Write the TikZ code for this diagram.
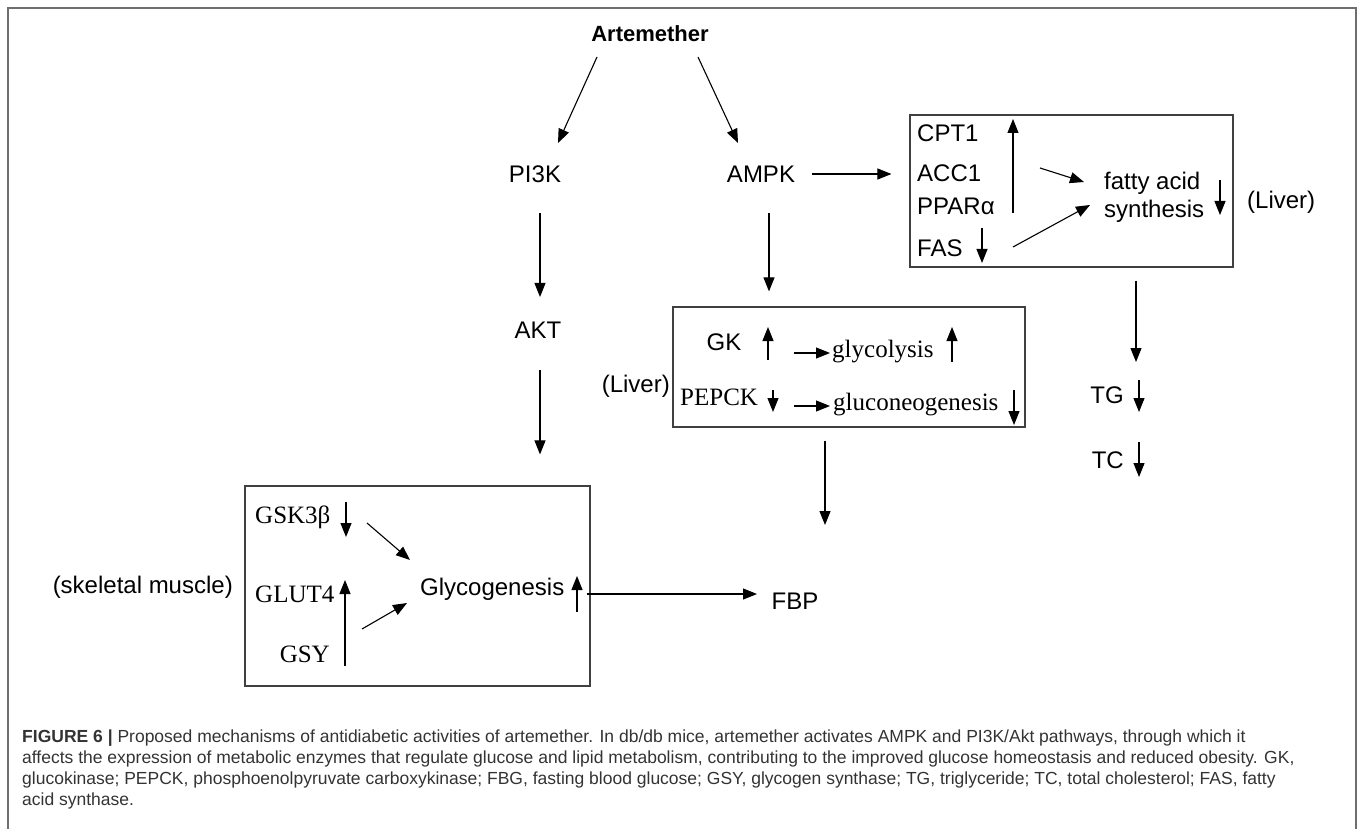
\documentclass[tikz,border=0pt]{standalone}
\usepackage{fontspec}
\setmainfont{Liberation Sans}
\newfontfamily\rmnode{Liberation Serif}
\newfontfamily\capfont{Liberation Sans}
\usetikzlibrary{calc,positioning,arrows.meta}
\definecolor{Frame}{HTML}{6e6e6e}
\definecolor{Caption}{HTML}{333333}
\def\sz#1{\fontsize{#1}{#1}\selectfont}

\begin{document}
\begin{tikzpicture}[
    x=1pt, y=-1pt,
    >={Triangle[length=14pt, width=11pt]},
    conn/.style={->, line width=1.1pt},
    box/.style={draw=black!75, line width=1.2pt, inner sep=0pt},
    sfKey/.style={font=\sz{24}, inner sep=0pt, anchor=base},
    sfKeyW/.style={font=\sz{24}, inner sep=0pt, anchor=base west},
    rmKey/.style={font=\rmnode\sz{25}, inner sep=0pt, anchor=base west},
  ]
  \useasboundingbox (0,0) rectangle (1358,829);
  \draw[Frame, line width=1.5pt] (8,829) -- (8,8) -- (1356,8) -- (1356,829);

  % main nodes
  \node[font=\bfseries\sz{22}, inner sep=0pt, anchor=base] (art) at (650,42) {Artemether};
  \node[sfKey] (pi3k) at (535,183) {PI3K};
  \node[sfKey] (ampk) at (761,183) {AMPK};
  \node[sfKey] (akt) at (538,338) {AKT};
  \node[sfKey] (fbp) at (795,609) {FBP};
  \node[sfKey, anchor=base east] (tg) at (1124,403) {TG};
  \node[sfKey, anchor=base east] (tc) at (1124,468) {TC};

  % boxes
  \node[box, minimum width=323pt, minimum height=152pt] (lipidbox) at (1071.5,191) {};
  \node[box, minimum width=352pt, minimum height=120pt] (liverbox) at (849,367) {};
  \node[box, minimum width=345pt, minimum height=200pt] (musclebox) at (417.5,586) {};

  % lipid box
  \node[sfKeyW] (cpt) at (917,142) {CPT1};
  \node[sfKeyW] (acc) at (917,182) {ACC1};
  \node[sfKeyW] (ppar) at (917,215) {PPARα};
  \node[sfKeyW] (fas) at (917,257) {FAS};
  \node[sfKeyW] (fatty) at (1104,190) {fatty acid};
  \node[sfKeyW] (synth) at (1104,218) {synthesis};
  \node[sfKeyW] (liverR) at (1247,209) {(Liver)};

  % liver box
  \node[sfKey] (gk) at (724,350) {GK};
  \node[rmKey] (glyco) at (832,357) {glycolysis};
  \node[rmKey] (pepck) at (680,405) {PEPCK};
  \node[rmKey] (gng) at (833,410) {gluconeogenesis};
  \node[sfKey, anchor=base east] (liverL) at (670,392) {(Liver)};

  % muscle box
  \node[rmKey] (gsk) at (255,523) {GSK3β};
  \node[rmKey] (glut) at (255,602) {GLUT4};
  \node[rmKey, anchor=base east] (gsy) at (330,662) {GSY};
  \node[sfKeyW] (glycogen) at (420,595) {Glycogenesis};
  \node[sfKey, anchor=base east] (muscle) at (233,593) {(skeletal muscle)};

  % lines
  \draw[conn] ($(art.base)+(-53,15)$) -- ($(pi3k.base)+(23,-40)$);
  \draw[conn] ($(art.base)+(48,15)$) -- ($(ampk.base)+(-23,-40)$);
  \draw[conn] ($(pi3k.base)+(5,30)$) -- ($(akt.base)+(2,-41)$);
  \draw[conn] ($(akt.base)+(2,32)$) -- ($(akt.base |- musclebox.north)+(2,-31)$);
  \draw[conn] ($(ampk.base)+(8,30)$) -- ($(ampk.base |- liverbox.north)+(8,-15)$);
  \draw[conn] ($(ampk.base)+(51,-9)$) -- ($(ampk.base -| lipidbox.west)+(-18,-9)$);
  \draw[conn] ($(lipidbox.south)+(64.5,13)$) -- ($(tg.base east)+(12,-41)$);
  \draw[conn] ($(liverbox.south)+(-24,13)$) -- ($(fbp.base)+(30,-84)$);
  \draw[conn] ($(musclebox.east)+(-4,8)$) -- ($(fbp.base)+(-38,-15)$);
  \draw[conn] ($(acc.base west)+(123,-14)$) -- ($(fatty.base west)+(-20,-8)$);
  \draw[conn] ($(fas.base west)+(96,-10)$) -- ($(fatty.base west)+(-14,15)$);
  \draw[conn] ($(gk.base)+(70,3)$) -- ($(glyco.base west)+(-2,-4)$);
  \draw[conn] ($(pepck.base west)+(114,1)$) -- ($(gng.base west)+(-3,-4)$);
  \draw[conn] ($(gsk.base west)+(112,0)$) -- ($(glycogen.base west)+(-10,-35)$);
  \draw[conn] ($(gsy.base east)+(32,-33)$) -- ($(glycogen.base west)+(-13,8)$);

  % up / down marks
  \draw[conn] ($(ppar.base west)+(96,-2)$) -- ($(cpt.base west)+(96,-23)$);
  \draw[conn] ($(fas.base west)+(65,-29)$) -- ++(0,35);
  \draw[conn] ($(fatty.base west)+(116,-10)$) -- ++(0,35);
  \draw[conn] ($(tg.base east)+(15,-23)$) -- ++(0,32);
  \draw[conn] ($(tc.base east)+(15,-26)$) -- ++(0,35);
  \draw[conn] ($(gk.base)+(44,10)$) -- ++(0,-33);
  \draw[conn] ($(glyco.base west)+(120,5)$) -- ++(0,-35);
  \draw[conn] ($(pepck.base west)+(93,-15)$) -- ++(0,22);
  \draw[conn] ($(gng.base west)+(181,-20)$) -- ++(0,35);
  \draw[conn] ($(gsk.base west)+(91,-21)$) -- ++(0,35);
  \draw[conn] ($(glut.base west)+(90,64)$) -- ++(0,-86);
  \draw[conn] ($(glycogen.base west)+(157,17)$) -- ++(0,-36);

  % caption
  \node[font=\capfont\fontsize{17.5}{21}\selectfont, text=Caption, inner sep=0pt, anchor=north west, align=left] (caption) at (22,730)
    {\textbf{FIGURE 6 |} Proposed mechanisms of antidiabetic activities of artemether. In db/db mice, artemether activates AMPK and PI3K/Akt pathways, through which it\\
     affects the expression of metabolic enzymes that regulate glucose and lipid metabolism, contributing to the improved glucose homeostasis and reduced obesity. GK,\\
     glucokinase; PEPCK, phosphoenolpyruvate carboxykinase; FBG, fasting blood glucose; GSY, glycogen synthase; TG, triglyceride; TC, total cholesterol; FAS, fatty\\
     acid synthase.};
\end{tikzpicture}
\end{document}
